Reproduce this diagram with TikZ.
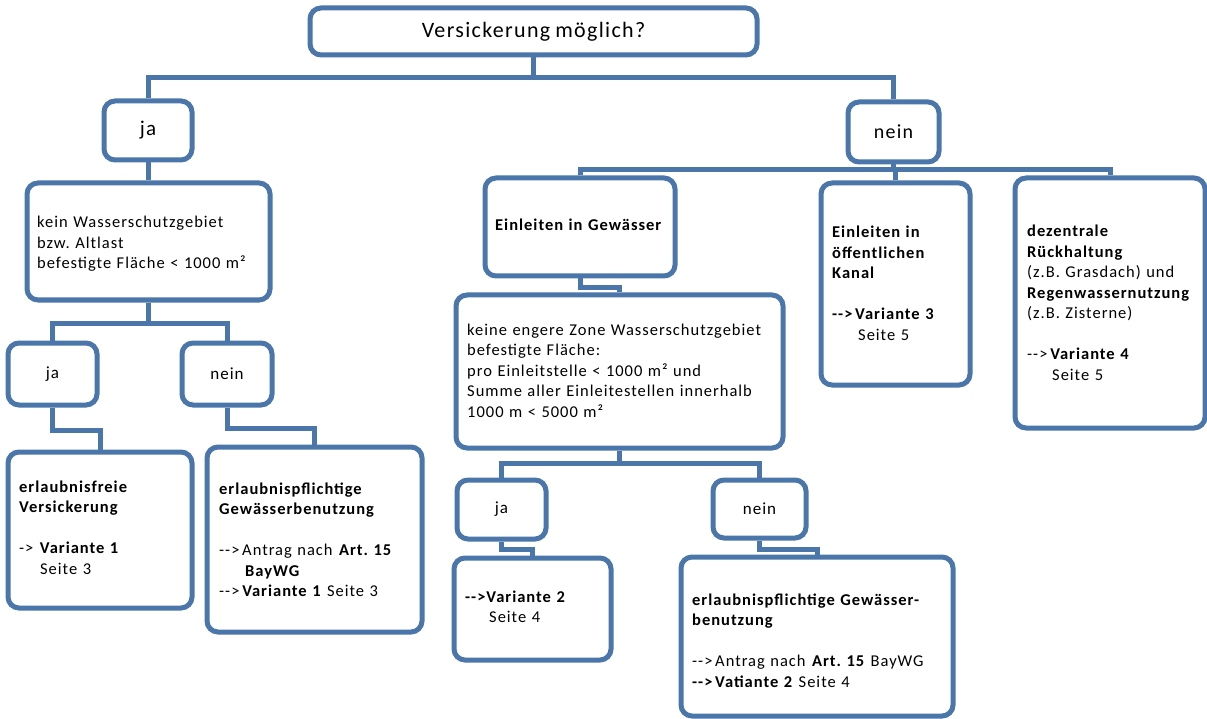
\documentclass[tikz,border=0pt]{standalone}
\usepackage{fontspec}
\setmainfont{Carlito}[LetterSpace=6.0,WordSpace=0.8]
\definecolor{lb}{HTML}{4A76AA}
\newcommand\arr{-{}-{}>}
\frenchspacing
\tikzset{
  box/.style={draw=lb, line width=5pt, rounded corners=11pt, fill=white, inner sep=0pt},
  con/.style={draw=lb, line width=5pt},
  txt/.style={inner sep=0pt, anchor=base west, align=left, text width=320pt,
    font=\fontsize{16.5}{20.5}\selectfont},
}
\begin{document}
\begin{tikzpicture}[x=1pt,y=-1pt]
\useasboundingbox[fill=white] (0,0) rectangle (1207,719);
% boxes
\node[box, minimum width=447, minimum height=47, font=\fontsize{22}{26}\selectfont] (top) at (533.5,31.5) {Versickerung möglich?};
\node[box, minimum width=88, minimum height=59, font=\fontsize{21}{25}\selectfont] (ja1) at (148,130.5) {ja};
\node[box, minimum width=91, minimum height=60, font=\fontsize{20}{24}\selectfont] (nein1) at (893.5,132) {nein};
\node[box, minimum width=243, minimum height=117] (kein) at (148.5,241.5) {};
\node[box, minimum width=89, minimum height=62, font=\fontsize{17}{20}\selectfont] (ja2) at (52.5,374) {ja};
\node[box, minimum width=90, minimum height=62, font=\fontsize{17}{20}\selectfont] (nein2) at (227,374) {nein};
\node[box, minimum width=184, minimum height=156] (efrei) at (100,530) {};
\node[box, minimum width=215, minimum height=185] (epfl1) at (314.5,539.5) {};
\node[box, minimum width=190, minimum height=98] (gew) at (580,227) {};
\node[box, minimum width=327, minimum height=153] (keine) at (619.5,371.5) {};
\node[box, minimum width=89, minimum height=59, font=\fontsize{17}{20}\selectfont] (ja3) at (501.5,509.5) {ja};
\node[box, minimum width=93, minimum height=58, font=\fontsize{17}{20}\selectfont] (nein3) at (759.5,509) {nein};
\node[box, minimum width=157, minimum height=102] (var2) at (532.5,609) {};
\node[box, minimum width=272, minimum height=159] (epfl2) at (817,636.5) {};
\node[box, minimum width=149, minimum height=202] (kanal) at (895.5,284) {};
\node[box, minimum width=190, minimum height=250] (dez) at (1110,303) {};
% connectors
\coordinate (h1) at (533.5,78);
\draw[con] (top.south) -- (h1);
\draw[con] (ja1.north) |- (h1) -| (nein1.north);
\draw[con] (ja1.south) -- (ja1.south |- kein.north);
\coordinate (h2) at (148.5,323);
\draw[con] (kein.south) -- (h2);
\draw[con] (ja2.north) |- (h2) -| (nein2.north);
\draw[con] (ja2.south) -- ++(0,23) -| (efrei.north);
\draw[con] (nein2.south) -- ++(0,21) -| (epfl1.north);
\coordinate (h3) at (893.5,170);
\draw[con] (nein1.south) -- (h3);
\draw[con] (gew.north) |- (h3) -| (dez.north);
\draw[con] (kanal.north) -- (kanal.north |- h3);
\draw[con] (gew.south) -- ++(0,9) -| (keine.north);
\coordinate (h4) at (619.5,463);
\draw[con] (keine.south) -- (h4);
\draw[con] (ja3.north) |- (h4) -| (nein3.north);
\draw[con] (ja3.south) -- ++(0,8) -| (var2.north);
\draw[con] (nein3.south) -- ++(0,9) -| (epfl2.north);
% texts
\node[txt] (tkein) at (37,228) {kein Wasserschutzgebiet\\bzw. Altlast\\befestigte Fläche < 1000 m²};
\node[txt] (tefrei) at (19,492) {\textbf{erlaubnisfreie}\\\textbf{Versickerung}\\[20.5pt]-> \textbf{Variante 1}\\\hspace*{21pt}Seite 3};
\node[txt] (tepfl1) at (219,494) {\textbf{erlaubnispflichtige}\\\textbf{Gewässerbenutzung}\\[20.5pt]\arr\,Antrag nach \textbf{Art. 15}\\\hspace*{26pt}\textbf{BayWG}\\\arr\,\textbf{Variante 1} Seite 3};
\node[txt] (tgew) at (495,231) {\textbf{Einleiten in Gewässer}};
\node[txt] (tkeine) at (467,335) {keine engere Zone Wasserschutzgebiet\\befestigte Fläche:\\pro Einleitstelle < 1000 m² und\\Summe aller Einleitestellen innerhalb\\1000 m < 5000 m²};
\node[txt] (tvar2) at (465,602) {\textbf{\arr Variante 2}\\\hspace*{24pt}Seite 4};
\node[txt] (tepfl2) at (692,605) {\textbf{erlaubnispflichtige Gewässer-}\\\textbf{benutzung}\\[20.5pt]\arr\,Antrag nach \textbf{Art. 15} BayWG\\\textbf{\arr\,Vatiante 2} Seite 4};
\node[txt] (tkanal) at (832,238) {\textbf{Einleiten in}\\\textbf{öffentlichen}\\\textbf{Kanal}\\[20.5pt]\textbf{\arr\,Variante 3}\\\hspace*{26pt}Seite 5};
\node[txt] (tdez) at (1027,237) {\textbf{dezentrale}\\\textbf{Rückhaltung}\\(z.B. Grasdach) und\\\textbf{Regenwassernutzung}\\(z.B. Zisterne)\\[20.5pt]\arr\,\textbf{Variante 4}\\\hspace*{25pt}Seite 5};
\end{tikzpicture}
\end{document}
